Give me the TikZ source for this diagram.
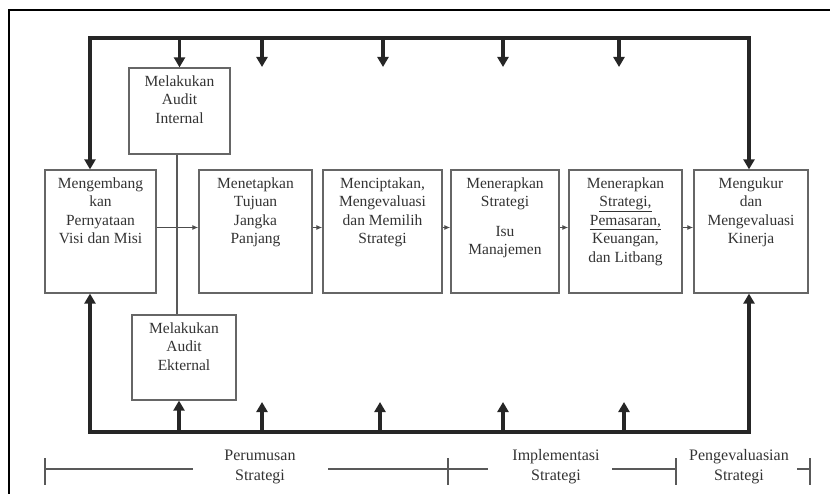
\documentclass[tikz,border=0pt]{standalone}
\usepackage{fontspec}
\setmainfont{Liberation Serif}
\usetikzlibrary{arrows.meta}
\begin{document}
\begin{tikzpicture}[x=1pt,y=-1pt,
  box/.style={draw=black!60,line width=1.3pt,inner sep=0pt},
  lbl/.style={anchor=north,inner sep=0pt,align=center,font=\fontsize{15.5}{18.5}\selectfont,text=black!80},
  phase/.style={inner sep=0pt,align=center,font=\fontsize{16}{20}\selectfont,text=black!80},
  bus/.style={draw=black!85,line width=3.2pt},
  tip/.style={-{Triangle[width=11pt,length=10pt]}},
  bitip/.style={{Triangle[width=11pt,length=10pt]}-{Triangle[width=11pt,length=10pt]}},
  link/.style={draw=black!70,line width=1.2pt,-{Latex[length=6pt,width=5pt]}},
  tl/.style={draw=black!65,line width=1.2pt},
  frame/.style={draw=black,line width=2pt},
]
\useasboundingbox (0,0) rectangle (830,494);
% outer frame (only top and left edges visible)
\coordinate (fr1) at (9,494);
\coordinate (fr2) at (9,10);
\coordinate (fr3) at (830,10);
\draw[frame] (fr1) -- (fr2) -- (fr3);

% boxes
\node[box,minimum width=111pt,minimum height=123pt] (b1) at (100.5,231.5) {};
\node[box,minimum width=113pt,minimum height=123pt] (b2) at (255.5,231.5) {};
\node[box,minimum width=119pt,minimum height=123pt] (b3) at (382.5,231.5) {};
\node[box,minimum width=108pt,minimum height=123pt] (b4) at (505,231.5) {};
\node[box,minimum width=113pt,minimum height=123pt] (b5) at (625.5,231.5) {};
\node[box,minimum width=114pt,minimum height=123pt] (b6) at (751,231.5) {};
\node[box,minimum width=101pt,minimum height=86pt] (ia) at (179.5,111) {};
\node[box,minimum width=104pt,minimum height=85pt] (ea) at (184,357.5) {};

% box texts
\node[lbl] (b1t) at ([yshift=-8pt]b1.north) {Mengembang\\kan\\Pernyataan\\Visi dan Misi};
\node[lbl] (b2t) at ([yshift=-8pt]b2.north) {Menetapkan\\Tujuan\\Jangka\\Panjang};
\node[lbl] (b3t) at ([yshift=-8pt]b3.north) {Menciptakan,\\Mengevaluasi\\dan Memilih\\Strategi};
\node[lbl] (b4t) at ([yshift=-8pt]b4.north) {Menerapkan\\Strategi\\[11pt]Isu\\Manajemen};
\node[lbl] (b5t) at ([yshift=-8pt]b5.north) {Menerapkan\\\underline{Strategi,}\\\underline{Pemasaran,}\\Keuangan,\\dan Litbang};
\node[lbl] (b6t) at ([yshift=-8pt]b6.north) {Mengukur\\dan\\Mengevaluasi\\Kinerja};
\node[lbl] (iat) at ([yshift=-8pt]ia.north) {Melakukan\\Audit\\Internal};
\node[lbl] (eat) at ([yshift=-8pt]ea.north) {Melakukan\\Audit\\Ekternal};

% thin connectors between boxes
\draw[link] ([yshift=4pt]b1.east) -- ([yshift=4pt]b2.west);
\draw[link] ([yshift=4pt]b2.east) -- ([yshift=4pt]b3.west);
\draw[link] ([yshift=4pt]b3.east) -- ([yshift=4pt]b4.west);
\draw[link] ([yshift=4pt]b4.east) -- ([yshift=4pt]b5.west);
\draw[link] ([yshift=4pt]b5.east) -- ([yshift=4pt]b6.west);
\draw[tl] ([xshift=-2.5pt]ia.south) -- ([xshift=-2.5pt]ia.south |- ea.north);

% top bus
\coordinate (topbus) at (420,38);
\draw[bus,bitip] ([xshift=-10.5pt]b1.north) |- (topbus) -| ([xshift=-2pt]b6.north);
\draw[bus,tip] (ia.north |- topbus) -- (ia.north);
\foreach \x in {262,383,503,619}{
  \coordinate (ts\x) at (\x,38);
  \coordinate (te\x) at (\x,67);
  \draw[bus,tip] (ts\x) -- (te\x);
}

% bottom bus
\coordinate (botbus) at (420,432);
\draw[bus,bitip] ([xshift=-10.5pt]b1.south) |- (botbus) -| ([xshift=-2pt]b6.south);
\draw[bus,tip] ([xshift=-5pt]ea.south |- botbus) -- ([xshift=-5pt]ea.south);
\foreach \x in {262,380,503,624}{
  \coordinate (bs\x) at (\x,432);
  \coordinate (be\x) at (\x,402);
  \draw[bus,tip] (bs\x) -- (be\x);
}

% phase timeline
\node[phase] (p1) at (260,466.5) {Perumusan\\Strategi};
\node[phase] (p2) at (556,466.5) {Implementasi\\Strategi};
\node[phase] (p3) at (739,466.5) {Pengevaluasian\\Strategi};
\foreach \n/\x in {1/45,2/448,3/676,4/810}{
  \coordinate (ka\n) at (\x,458);
  \coordinate (kb\n) at (\x,485);
  \coordinate (km\n) at (\x,469);
  \draw[tl] (ka\n) -- (kb\n);
}
\coordinate (s1) at (193,469);
\coordinate (s2) at (328,469);
\coordinate (s3) at (488,469);
\coordinate (s4) at (612,469);
\coordinate (s5) at (797,469);
\draw[tl] (km1) -- (s1);
\draw[tl] (s2) -- (km2) -- (s3);
\draw[tl] (s4) -- (km3);
\draw[tl] (s5) -- (km4);
\end{tikzpicture}
\end{document}
